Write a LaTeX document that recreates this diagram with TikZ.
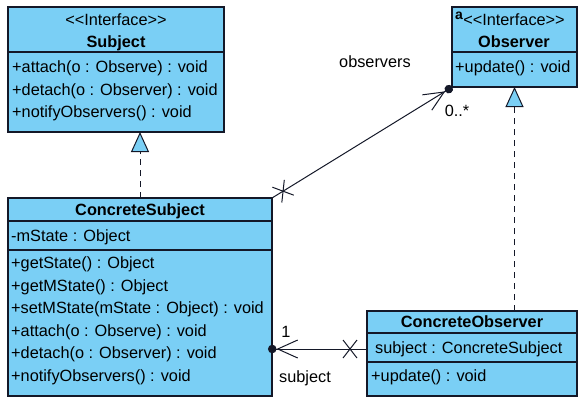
\documentclass[tikz,border=0pt]{standalone}
\usepackage{fontspec}
\setmainfont{Liberation Sans}
\usetikzlibrary{arrows.meta,decorations.markings}
\definecolor{cfill}{RGB}{122,207,245}
\definecolor{cline}{RGB}{20,24,40}
\begin{document}
\begin{tikzpicture}[x=1pt,y=-1pt,
  box/.style={draw=cline, line width=1.1pt, fill=cfill, rectangle, inner sep=0pt, outer sep=0pt, anchor=north west},
  divider/.style={draw=cline, line width=1.1pt},
  txt/.style={font=\fontsize{16.3}{18}\selectfont, inner sep=0pt, text height=12pt, text depth=3.5pt},
  lt/.style={txt, anchor=west},
  bt/.style={txt, font=\fontsize{16.3}{18}\selectfont\bfseries},
  realize/.style={draw=cline, line width=1pt, dash pattern=on 6pt off 5pt,
    -{Triangle[open, width=18pt, length=20pt, fill=cfill, line width=1pt]}},
  assoc/.style={draw=cline, line width=1pt,
    -{Straight Barb[length=20pt, width=18pt, line width=1pt] Circle[length=8.5pt, width=8.5pt, sep=-4pt]}},
  xcross/.style={postaction={decorate, decoration={markings,
    mark=at position #1 with {\draw[-, cline, line width=1pt] (-7,-9) -- (7,9) (-7,9) -- (7,-9);}}}}
]
\useasboundingbox (0,0) rectangle (584,402);

% Subject
\node[box, minimum width=216pt, minimum height=125pt] (subj) at (8,7) {};
\draw[divider] (subj.west |- 0,52) -- (subj.east |- 0,52);
\node[txt] (subjst) at (116,21) {<{}<Interface>{}>};
\node[bt] (subjnm) at (116,43) {Subject};
\node[lt] (subjm1) at (12,68) {+attach(o : Observe) : void};
\node[lt] (subjm2) at (12,91) {+detach(o : Observer) : void};
\node[lt] (subjm3) at (12,113) {+notifyObservers() : void};

% Observer
\node[box, minimum width=125pt, minimum height=80pt] (obs) at (452,7) {};
\draw[divider] (obs.west |- 0,52) -- (obs.east |- 0,52);
\node[txt] (obsst) at (514,21) {<{}<Interface>{}>};
\node[txt, font=\fontsize{14}{14}\selectfont\bfseries, text height=9pt, text depth=1pt] (obsic) at (459,15) {a};
\node[bt] (obsnm) at (514,43) {Observer};
\node[lt] (obsm1) at (455,68) {+update() : void};

% ConcreteSubject
\node[box, minimum width=264pt, minimum height=198pt] (cs) at (8,198) {};
\draw[divider] (cs.west |- 0,221) -- (cs.east |- 0,221);
\draw[divider] (cs.west |- 0,250) -- (cs.east |- 0,250);
\node[bt] (csnm) at (140,211) {ConcreteSubject};
\node[lt] (csa1) at (11,237) {-mState : Object};
\node[lt] (csm1) at (11,264) {+getState() : Object};
\node[lt] (csm2) at (11,287) {+getMState() : Object};
\node[lt] (csm3) at (11,309) {+setMState(mState : Object) : void};
\node[lt] (csm4) at (11,332) {+attach(o : Observe) : void};
\node[lt] (csm5) at (11,354) {+detach(o : Observer) : void};
\node[lt] (csm6) at (11,377) {+notifyObservers() : void};

% ConcreteObserver
\node[box, minimum width=210pt, minimum height=85pt] (co) at (367,311) {};
\draw[divider] (co.west |- 0,333) -- (co.east |- 0,333);
\draw[divider] (co.west |- 0,362) -- (co.east |- 0,362);
\node[bt] (conm) at (472,323) {ConcreteObserver};
\node[lt] (coa1) at (375,349) {subject : ConcreteSubject};
\node[lt] (com1) at (371,377) {+update() : void};

% realizations
\draw[realize] (cs.north) -- (cs.north |- subj.south);
\draw[realize] (co.north -| obs.south) -- (obs.south);

% associations
\draw[assoc, xcross=17pt] ([yshift=4.5pt]co.west) -- (cs.east |- 0,349);
\draw[assoc, xcross=13pt] (cs.north east) -- ([xshift=-3pt,yshift=-2pt]obs.south west);

% labels
\node[txt] (lobs) at (375,63) {observers};
\node[txt] (lmany) at (457,112) {0..*};
\node[txt] (lone) at (286,333) {1};
\node[txt] (lsubj) at (305,378) {subject};
\end{tikzpicture}
\end{document}
